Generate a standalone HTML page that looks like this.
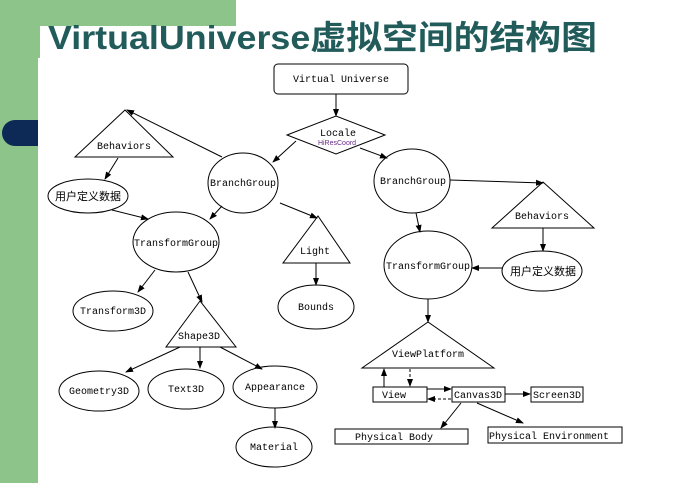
<!DOCTYPE html>
<html><head><meta charset="utf-8"><style>
html,body{margin:0;padding:0;background:#fff;}
body{width:673px;height:483px;position:relative;overflow:hidden;}
.t{font-family:"Liberation Mono","Noto Sans CJK SC",monospace;font-size:10px;fill:#000;text-anchor:middle;}
.c{font-family:"Liberation Sans","Noto Sans CJK SC",sans-serif;font-size:11px;fill:#000;text-anchor:middle;}
</style></head><body>
<svg width="673" height="483" viewBox="0 0 673 483" xmlns="http://www.w3.org/2000/svg">
<defs><marker id="a" markerWidth="8" markerHeight="8" refX="7" refY="4" orient="auto" markerUnits="userSpaceOnUse"><path d="M0,1 L8,4 L0,7z" fill="#000"/></marker></defs>
<rect x="0" y="0" width="236" height="26" fill="#8dc48a"/>
<rect x="0" y="0" width="40" height="483" fill="#8dc48a"/>
<path d="M45,58 L45,40 Q45,26 60,26 L236,26 L236,58z" fill="#fff"/>
<rect x="38" y="58" width="635" height="425" fill="#fff"/>
<rect x="2" y="120" width="50" height="26" rx="13" fill="#0c2a55"/>
<rect x="38" y="118" width="20" height="30" fill="#fff"/>
<text x="48" y="49" font-family="Liberation Sans,'Noto Sans CJK SC',sans-serif" font-weight="bold" font-size="33" fill="#215b5a" textLength="549" lengthAdjust="spacingAndGlyphs">VirtualUniverse虚拟空间的结构图</text>
<g stroke="#000" stroke-width="1" fill="#fff">
<rect x="274" y="64" width="134" height="30" rx="4"/>
<polygon points="287,135 336,116 385,135 336,154"/>
<polygon points="125,110 75,157 173,157"/>
<ellipse cx="243" cy="183" rx="35" ry="30"/>
<ellipse cx="412" cy="181" rx="38" ry="32"/>
<ellipse cx="88" cy="196" rx="40" ry="17"/>
<ellipse cx="176" cy="242" rx="43" ry="30"/>
<polygon points="318,216 283,263 350,263"/>
<ellipse cx="316" cy="307" rx="38" ry="22"/>
<ellipse cx="113" cy="311" rx="40" ry="20"/>
<polygon points="200,301 166,347 236,347"/>
<ellipse cx="99" cy="391" rx="40" ry="20"/>
<ellipse cx="186" cy="389" rx="38" ry="20"/>
<ellipse cx="275" cy="387" rx="42" ry="21"/>
<ellipse cx="274" cy="447" rx="38" ry="20"/>
<polygon points="543,182 492,228 594,228"/>
<ellipse cx="542" cy="271" rx="40" ry="20"/>
<ellipse cx="428" cy="265" rx="44" ry="34"/>
<polygon points="428,322 362,368 494,368"/>
<rect x="373" y="387" width="54" height="15"/>
<rect x="452" y="387" width="53" height="15"/>
<rect x="531" y="387" width="52" height="15"/>
<rect x="335" y="429" width="133" height="15"/>
<rect x="488" y="427" width="134" height="16"/>
</g>
<g stroke="#000" stroke-width="1" marker-end="url(#a)">
<line x1="336" y1="94" x2="336" y2="116"/>
<line x1="222" y1="157" x2="127" y2="110"/>
<line x1="296" y1="141" x2="273" y2="162"/>
<line x1="360" y1="148" x2="387" y2="158"/>
<line x1="118" y1="158" x2="105" y2="179"/>
<line x1="112" y1="210" x2="148" y2="219"/>
<line x1="222" y1="206" x2="210" y2="219"/>
<line x1="280" y1="203" x2="317" y2="218"/>
<line x1="316" y1="263" x2="316" y2="285"/>
<line x1="155" y1="270" x2="138" y2="292"/>
<line x1="188" y1="272" x2="202" y2="302"/>
<line x1="180" y1="347" x2="126" y2="372"/>
<line x1="200" y1="347" x2="200" y2="368"/>
<line x1="220" y1="347" x2="262" y2="369"/>
<line x1="275" y1="408" x2="275" y2="428"/>
<line x1="450" y1="180" x2="543" y2="183"/>
<line x1="543" y1="228" x2="543" y2="251"/>
<line x1="416" y1="213" x2="420" y2="232"/>
<line x1="502" y1="268" x2="472" y2="268"/>
<line x1="428" y1="299" x2="428" y2="322"/>
<line x1="384" y1="387" x2="384" y2="369"/>
<line x1="410" y1="369" x2="410" y2="386" stroke-dasharray="3,2"/>
<line x1="427" y1="389" x2="451" y2="389"/>
<line x1="451" y1="399" x2="428" y2="399" stroke-dasharray="3,2"/>
<line x1="505" y1="394" x2="530" y2="394"/>
<line x1="461" y1="403" x2="441" y2="428"/>
<line x1="477" y1="403" x2="523" y2="423"/>
</g>
<text class="t" x="341" y="82">Virtual Universe</text>
<text class="t" x="338" y="136">Locale</text>
<text x="337" y="145" font-family="Liberation Sans,sans-serif" font-size="7" fill="#6a2b8a" text-anchor="middle">HiResCoord</text>
<text class="t" x="124" y="149">Behaviors</text>
<text class="t" x="243" y="186">BranchGroup</text>
<text class="t" x="413" y="184">BranchGroup</text>
<text class="c" x="88" y="200">用户定义数据</text>
<text class="t" x="176" y="246">TransformGroup</text>
<text class="t" x="315" y="254">Light</text>
<text class="t" x="316" y="310">Bounds</text>
<text class="t" x="113" y="314">Transform3D</text>
<text class="t" x="199" y="339">Shape3D</text>
<text class="t" x="99" y="394">Geometry3D</text>
<text class="t" x="186" y="392">Text3D</text>
<text class="t" x="275" y="390">Appearance</text>
<text class="t" x="274" y="450">Material</text>
<text class="t" x="542" y="219">Behaviors</text>
<text class="c" x="543" y="275">用户定义数据</text>
<text class="t" x="428" y="269">TransformGroup</text>
<text class="t" x="428" y="357">ViewPlatform</text>
<text class="t" x="394" y="398">View</text>
<text class="t" x="478" y="398">Canvas3D</text>
<text class="t" x="557" y="398">Screen3D</text>
<text class="t" x="394" y="440">Physical Body</text>
<text class="t" x="549" y="439">Physical Environment</text>
</svg>
</body></html>
